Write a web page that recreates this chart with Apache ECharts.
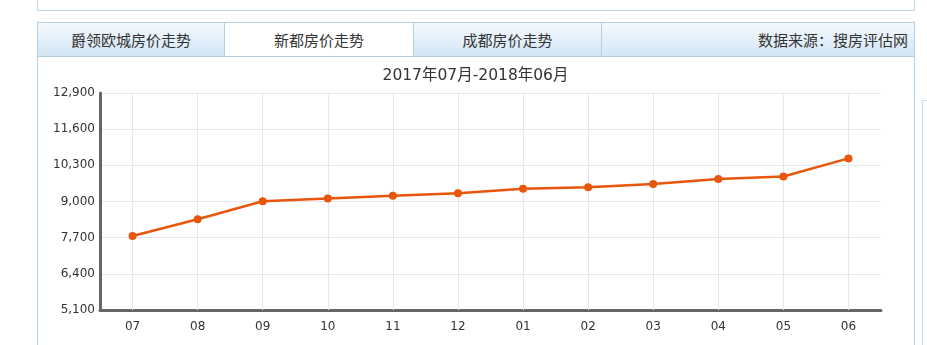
<!DOCTYPE html>
<html><head><meta charset="utf-8">
<script src="https://cdn.jsdelivr.net/npm/echarts@6/dist/echarts.min.js"></script>
<style>
html,body{margin:0;padding:0;background:#fff;width:927px;height:345px;overflow:hidden;font-family:"Noto Sans CJK SC",sans-serif;}
.top{position:absolute;left:37px;top:-2px;width:876px;height:12px;border:1px solid #b9d5e8;border-top:none;background:#fff;}
.tabs{position:absolute;left:37px;top:22px;width:876px;height:33px;border:1px solid #b0d0e6;}
.tab{position:absolute;top:0;height:33px;line-height:33px;font-size:15px;color:#333;text-align:center;
 background:linear-gradient(#f4f9fd,#d3e6f5);border-right:1px solid #b0d0e6;}
.tab.active{background:#fff;}
.panel{position:absolute;left:37px;top:56px;width:876px;height:300px;border-left:1px solid #b0d0e6;border-right:1px solid #b0d0e6;}
.side{position:absolute;left:922px;top:100px;width:10px;height:300px;border-left:1px solid #c9dced;border-top:1px solid #c9dced;}
#c{position:absolute;left:38px;top:57px;width:875px;height:288px;}
</style></head><body>
<div class="top"></div>
<div class="tabs">
 <div class="tab" style="left:0;width:186px;">爵领欧城房价走势</div>
 <div class="tab active" style="left:187px;width:188px;">新都房价走势</div>
 <div class="tab" style="left:376px;width:187px;">成都房价走势</div>
 <div class="tab" style="left:564px;width:312px;text-align:right;border-right:none;"><span style="margin-right:6px">数据来源：搜房评估网</span></div>
</div>
<div class="panel"></div>
<div class="side"></div>
<div id="c"></div>
<script>
const chartTitle = '2017年07月-2018年06月';
const months = ['07','08','09','10','11','12','01','02','03','04','05','06'];
const prices = [7760, 8360, 9010, 9110, 9210, 9300, 9460, 9510, 9630, 9810, 9900, 10550];
const yMin = 5100, yMax = 12900, yStep = 1300;

const chart = echarts.init(document.getElementById('c'));
chart.setOption({
  animation:false,
  title:{text:chartTitle,left:'center',top:6,textStyle:{fontSize:15.5,fontWeight:'normal',color:'#333',fontFamily:'DejaVu Sans, Noto Sans CJK SC'}},
  grid:{left:62,right:32,top:36,bottom:35},
  xAxis:{type:'category',data:months,boundaryGap:true,
    axisLine:{lineStyle:{color:'#666',width:3}},
    axisTick:{alignWithLabel:true,length:4,lineStyle:{color:'#666'}},
    axisLabel:{color:'#333',fontSize:12,fontFamily:'DejaVu Sans',margin:11},
    splitLine:{show:false}},
  yAxis:{type:'value',min:yMin,max:yMax,interval:yStep,
    axisLine:{show:true,lineStyle:{color:'#666',width:3}},
    axisTick:{show:false},
    axisLabel:{color:'#333',fontSize:12,fontFamily:'DejaVu Sans',margin:5,
      formatter:v=>v.toLocaleString('en-US')},
    splitLine:{lineStyle:{color:'#e6e6ee',width:1}}},
  series:[
    {type:'line',data:[],z:1,silent:true,
      markLine:{silent:true,z:1,symbol:['none','none'],label:{show:false},
        lineStyle:{color:'#e6e6ee',width:1,type:'solid'},
        data:months.map(m=>({xAxis:m}))}},
    {type:'line',data:prices,z:10,symbol:'circle',symbolSize:8,
    lineStyle:{color:'#e8560c',width:2.5},itemStyle:{color:'#e8560c'}}]
});
</script>
</body></html>
